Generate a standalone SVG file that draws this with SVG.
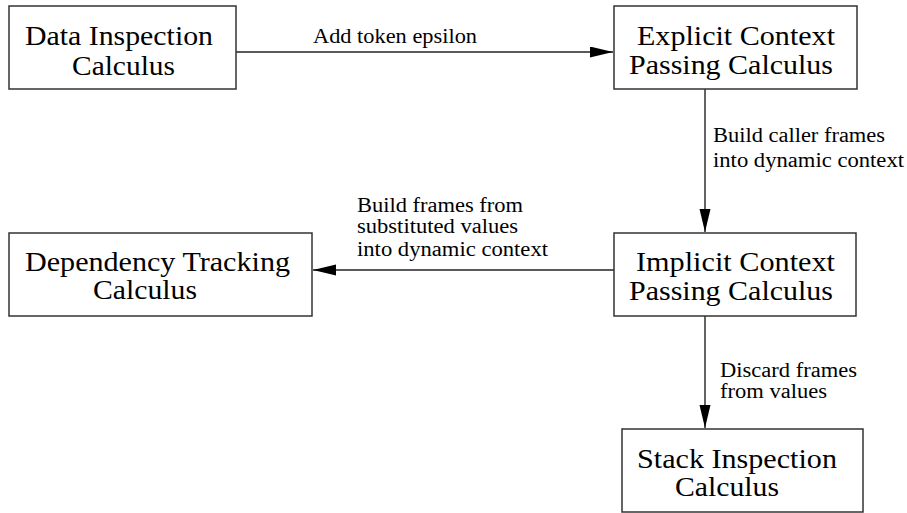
<svg xmlns="http://www.w3.org/2000/svg" width="907" height="513" viewBox="0 0 907 513">
<defs>
<style>
.box{fill:#fff;stroke:#333;stroke-width:1.5}
text{font-family:'Liberation Serif','Times New Roman',Times,serif}
.nt{font-size:28px;fill:#000}
.lt{font-size:20px;fill:#000}
.edge{fill:none;stroke:#222;stroke-width:1.4}
</style>
<marker id="ah" markerUnits="userSpaceOnUse" markerWidth="24" markerHeight="12" refX="23" refY="5.5" orient="auto">
<path d="M0,0 L23,5.5 L0,11 z" fill="#000"/>
</marker>
</defs>
<rect width="907" height="513" fill="#fff"/>
<g id="connectors">
<line class="edge" x1="236" y1="52" x2="613" y2="52" marker-end="url(#ah)"/>
<line class="edge" x1="705" y1="89" x2="705" y2="232" marker-end="url(#ah)"/>
<line class="edge" x1="614" y1="270" x2="313" y2="270" marker-end="url(#ah)"/>
<line class="edge" x1="705" y1="316" x2="705" y2="428" marker-end="url(#ah)"/>
<text class="lt" x="313" y="43" textLength="164" lengthAdjust="spacingAndGlyphs">Add token epsilon</text>
<text class="lt" x="713" y="142" textLength="172" lengthAdjust="spacingAndGlyphs">Build caller frames</text>
<text class="lt" x="713" y="167" textLength="191" lengthAdjust="spacingAndGlyphs">into dynamic context</text>
<text class="lt" x="357" y="212" textLength="166" lengthAdjust="spacingAndGlyphs">Build frames from</text>
<text class="lt" x="357" y="233" textLength="161" lengthAdjust="spacingAndGlyphs">substituted values</text>
<text class="lt" x="357" y="256" textLength="191" lengthAdjust="spacingAndGlyphs">into dynamic context</text>
<text class="lt" x="720" y="377" textLength="137" lengthAdjust="spacingAndGlyphs">Discard frames</text>
<text class="lt" x="720" y="398" textLength="107" lengthAdjust="spacingAndGlyphs">from values</text>
</g>
<g id="data-inspection">
<rect class="box" x="9" y="6" width="227" height="83"/>
<text class="nt" x="25" y="45" textLength="188" lengthAdjust="spacingAndGlyphs">Data Inspection</text>
<text class="nt" x="72" y="75" textLength="103" lengthAdjust="spacingAndGlyphs">Calculus</text>
</g>
<g id="explicit-context">
<rect class="box" x="614" y="6" width="243" height="83"/>
<text class="nt" x="637" y="45" textLength="198" lengthAdjust="spacingAndGlyphs">Explicit Context</text>
<text class="nt" x="629" y="74" textLength="204" lengthAdjust="spacingAndGlyphs">Passing Calculus</text>
</g>
<g id="implicit-context">
<rect class="box" x="614" y="233" width="242" height="83"/>
<text class="nt" x="636" y="271" textLength="199" lengthAdjust="spacingAndGlyphs">Implicit Context</text>
<text class="nt" x="629" y="300" textLength="204" lengthAdjust="spacingAndGlyphs">Passing Calculus</text>
</g>
<g id="dependency-tracking">
<rect class="box" x="9" y="233" width="303" height="83"/>
<text class="nt" x="25" y="271" textLength="265" lengthAdjust="spacingAndGlyphs">Dependency Tracking</text>
<text class="nt" x="93" y="299" textLength="104" lengthAdjust="spacingAndGlyphs">Calculus</text>
</g>
<g id="stack-inspection">
<rect class="box" x="622" y="429" width="241" height="83"/>
<text class="nt" x="637" y="468" textLength="200" lengthAdjust="spacingAndGlyphs">Stack Inspection</text>
<text class="nt" x="675" y="496" textLength="104" lengthAdjust="spacingAndGlyphs">Calculus</text>
</g>
</svg>
